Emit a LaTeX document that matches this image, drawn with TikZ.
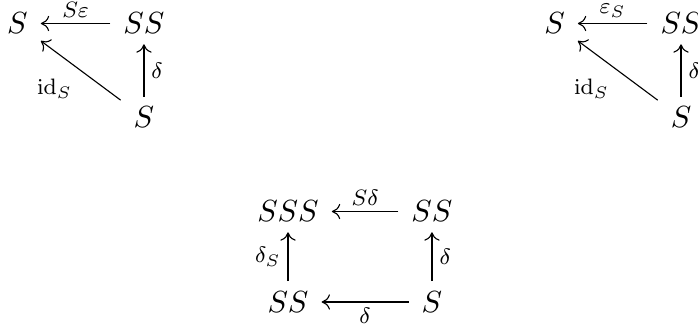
\documentclass[tikz,border=0pt]{standalone}
\usetikzlibrary{arrows.meta, positioning}

\begin{document}
\begin{tikzpicture}[
	  node distance=1cm, on grid,
	  obj/.style={inner xsep=4.5pt, inner ysep=3.5pt, font=\fontsize{11}{13}\selectfont},
	  lbl/.style={font=\fontsize{8}{9}\selectfont, inner sep=2pt},
	  arrow/.style={-{To[length=3pt, width=5.5pt]}}
	]
	\useasboundingbox (0,0) rectangle (8.795,-4.145);

	% counit, left
	\node (s1) [obj] at (0.22,-0.296) {$S$};
	\node (ss1) [obj, right=1.594cm of s1] {$SS$};
	\node (b1) [obj, below=1.184cm of ss1] {$S$};

	% counit, right
	\node (s2) [obj] at (6.987,-0.296) {$S$};
	\node (ss2) [obj, right=1.594cm of s2] {$SS$};
	\node (b2) [obj, below=1.184cm of ss2] {$S$};

	% coassociativity
	\node (sss) [obj] at (3.629,-2.665) {$SSS$};
	\node (ssr) [obj, right=1.814cm of sss] {$SS$};
	\node (ssl) [obj, below=1.14cm of sss] {$SS$};
	\node (sb) [obj, below=1.14cm of ssr] {$S$};

	\draw [arrow] (ss1) -- node[lbl, above] {$S\varepsilon$} (s1);
	\draw [arrow] (b1) -- node[lbl, right, inner sep=2.5pt] {$\delta$} (ss1);
	\draw [arrow] (b1) -- node[lbl, below left, inner sep=3pt] {$\mathrm{id}_S$} (s1);

	\draw [arrow] (ss2) -- node[lbl, above] {$\varepsilon_S$} (s2);
	\draw [arrow] (b2) -- node[lbl, right, inner sep=2.5pt] {$\delta$} (ss2);
	\draw [arrow] (b2) -- node[lbl, below left, inner sep=3pt] {$\mathrm{id}_S$} (s2);

	\draw [arrow] (ssr) -- node[lbl, above] {$S\delta$} (sss);
	\draw [arrow] (ssl) -- node[lbl, left, inner sep=2.5pt] {$\delta_S$} (sss);
	\draw [arrow] (sb) -- node[lbl, right, inner sep=2.5pt] {$\delta$} (ssr);
	\draw [arrow] (sb) -- node[lbl, below] {$\delta$} (ssl);

\end{tikzpicture}
\end{document}
